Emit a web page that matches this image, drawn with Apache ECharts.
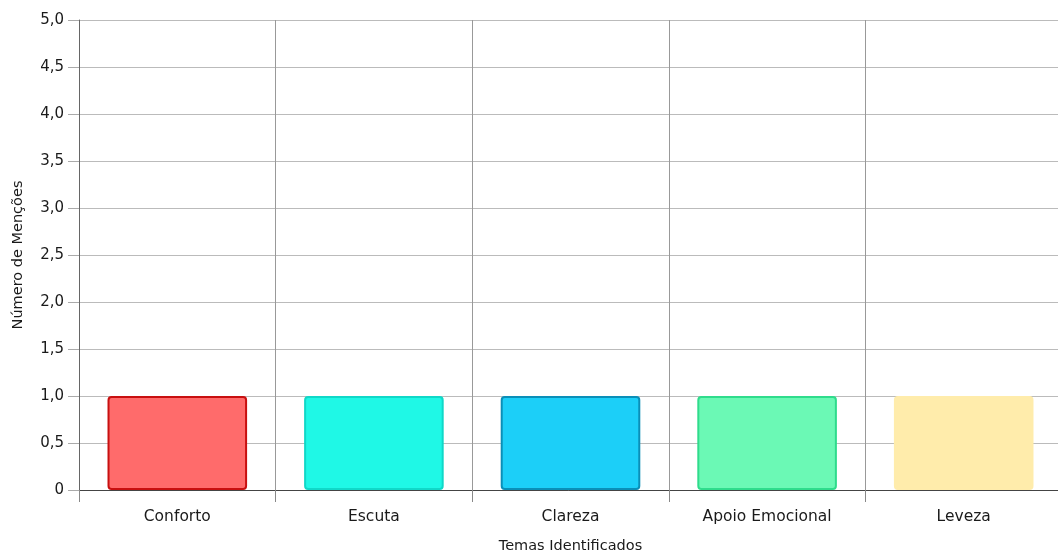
<!DOCTYPE html>
<html><head><meta charset="utf-8">
<script src="https://cdn.jsdelivr.net/npm/echarts@6/dist/echarts.min.js"></script>
<style>html,body{margin:0;padding:0;background:#fff}#c{width:1058px;height:557px}</style>
</head><body><div id="c"></div>
<script>
const categories = ['Conforto', 'Escuta', 'Clareza', 'Apoio Emocional', 'Leveza'];
const mentions = [1, 1, 1, 1, 1];
const yTicks = [0, 0.5, 1, 1.5, 2, 2.5, 3, 3.5, 4, 4.5, 5];

const fills = ['#ff6b6b', '#1ff8e6', '#1ccff8', '#6bf9b5', '#ffecab'];
const borders = ['#c81010', '#10d8c8', '#0a8fb8', '#2fdc8c', '#ffecab'];

const chart = echarts.init(document.getElementById('c'));
chart.setOption({
  animation: false,
  textStyle: { fontFamily: 'DejaVu Sans, sans-serif' },
  grid: { left: 79, width: 983, top: 20, height: 470, containLabel: false, outerBoundsMode: 'none' },
  xAxis: {
    type: 'category',
    data: categories,
    name: 'Temas Identificados',
    nameLocation: 'middle',
    nameGap: 49,
    nameTextStyle: { fontSize: 14.5, color: '#1a1a1a', fontFamily: 'DejaVu Sans' },
    axisLine: { lineStyle: { color: '#444', width: 1 } },
    axisTick: { show: true, length: 12, lineStyle: { color: '#888' } },
    axisLabel: { fontSize: 15.5, color: '#1a1a1a', margin: 19, fontFamily: 'DejaVu Sans' },
    splitLine: { show: true, lineStyle: { color: '#999', width: 1 } }
  },
  yAxis: {
    type: 'value',
    min: yTicks[0],
    max: yTicks[yTicks.length - 1],
    interval: 0.5,
    name: 'Número de Menções',
    nameLocation: 'middle',
    nameGap: 53,
    nameRotate: 90,
    nameTextStyle: { fontSize: 14.5, color: '#1a1a1a', fontFamily: 'DejaVu Sans' },
    axisLine: { show: true, lineStyle: { color: '#666' } },
    axisTick: { show: true, length: 11, lineStyle: { color: '#aaa' } },
    axisLabel: {
      fontSize: 15, color: '#1a1a1a', margin: 15, fontFamily: 'DejaVu Sans',
      formatter: v => v === 0 ? '0' : v.toFixed(1).replace('.', ',')
    },
    splitLine: { show: true, lineStyle: { color: '#bbb', width: 1 } }
  },
  series: [{
    type: 'bar',
    barWidth: '71%',
    data: mentions.map((v, i) => ({
      value: v,
      itemStyle: {
        color: fills[i],
        borderColor: borders[i],
        borderWidth: 2,
        borderRadius: 3
      }
    }))
  }]
});
</script></body></html>
